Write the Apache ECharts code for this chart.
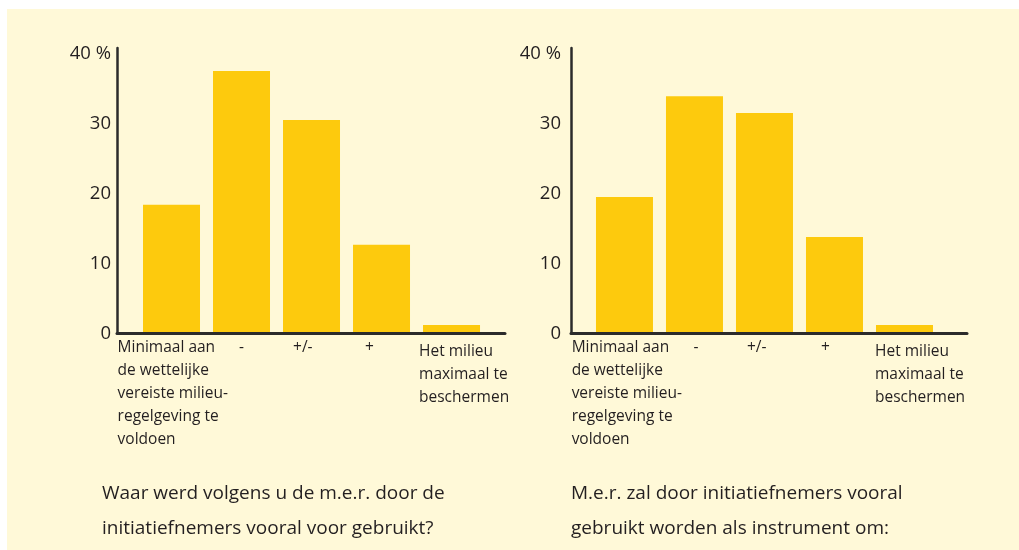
<!DOCTYPE html>
<html>
<head>
<meta charset="utf-8">
<script src="https://cdn.jsdelivr.net/npm/echarts@6/dist/echarts.min.js"></script>
<style>
  html, body { margin: 0; padding: 0; background: #ffffff; }
  #bg { position: absolute; left: 7px; top: 9px; width: 1012px; height: 541px; background: #FFF9D8; }
  #chart { position: absolute; left: 0; top: 0; width: 1019px; height: 550px; }
</style>
</head>
<body>
<div id="bg"></div>
<div id="chart"></div>
<script>
// ---- data ----
const categories = [
  'Minimaal aan\nde wettelijke\nvereiste milieu-\nregelgeving te\nvoldoen',
  '-',
  '+/-',
  '+',
  'Het milieu\nmaximaal te\nbeschermen'
];
const leftValues = [18.4, 37.5, 30.5, 12.7, 1.2];
const rightValues = [19.5, 33.9, 31.5, 13.8, 1.2];
const yTickValues = [0, 10, 20, 30, 40];
const yTickLabels = ['0', '10', '20', '30', '40 %'];
const leftTitle = 'Waar werd volgens u de m.e.r. door de\ninitiatiefnemers vooral voor gebruikt?';
const rightTitle = 'M.e.r. zal door initiatiefnemers vooral\ngebruikt worden als instrument om:';

// ---- styling / layout ----
const FONT = 'Open Sans';
const TXT = '#231f20';
const BAR = '#FDCA0D';
const AXIS = '#2b2b2b';

// label anchor positions (axis units) for each chart
const leftLabelPos = [-0.77, 0.964, 1.736, 2.764, 3.536];
const rightLabelPos = [-0.755, 0.986, 1.75, 2.807, 3.579];

function xAxisCfg(gridIndex, min, max, labelPos) {
  return {
    type: 'value', gridIndex, min, max,
    axisLine: { show: true, onZero: false, lineStyle: { color: AXIS, width: 3 } },
    axisTick: { show: false },
    splitLine: { show: false },
    z: 5,
    axisLabel: {
      customValues: labelPos,
      align: 'left',
      verticalAlign: 'top',
      margin: 3,
      fontFamily: FONT, fontSize: 15.5, lineHeight: 23, color: TXT,
      rich: { s: { lineHeight: 4, fontSize: 4 } },
      formatter: function (v) {
        let best = 0, d = Infinity;
        labelPos.forEach((p, i) => { if (Math.abs(p - v) < d) { d = Math.abs(p - v); best = i; } });
        const t = categories[best];
        return best === categories.length - 1 ? '{s| }\n' + t : t;
      }
    }
  };
}
function yAxisCfg(gridIndex, margin) {
  return {
    type: 'value', gridIndex, min: 0, max: 40.8, interval: 10,
    axisLine: { show: true, onZero: false, lineStyle: { color: AXIS, width: 2.5 } },
    axisTick: { show: false },
    splitLine: { show: false },
    z: 5,
    axisLabel: {
      customValues: yTickValues,
      margin: margin,
      fontFamily: FONT, fontSize: 18.5, color: TXT,
      formatter: function (v) { return yTickLabels[yTickValues.indexOf(v)]; }
    }
  };
}
function barSeries(idx, values) {
  return {
    type: 'bar', xAxisIndex: idx, yAxisIndex: idx,
    barWidth: 57,
    itemStyle: { color: BAR },
    data: values.map((v, i) => [i, v]),
    z: 2
  };
}

const chart = echarts.init(document.getElementById('chart'), null, { renderer: 'canvas' });
chart.setOption({
  backgroundColor: 'transparent',
  animation: false,
  title: [
    { text: leftTitle, left: 97, top: 471,
      textStyle: { fontFamily: FONT, fontSize: 19, fontWeight: 'normal', color: TXT, lineHeight: 35 } },
    { text: rightTitle, left: 566, top: 471,
      textStyle: { fontFamily: FONT, fontSize: 19, fontWeight: 'normal', color: TXT, lineHeight: 35 } }
  ],
  grid: [
    { left: 117, right: 514, top: 48, bottom: 216.5 },
    { left: 571, right: 52, top: 48, bottom: 216.5 }
  ],
  xAxis: [
    xAxisCfg(0, -0.7786, 4.764, leftLabelPos),
    xAxisCfg(1, -0.764, 4.893, rightLabelPos)
  ],
  yAxis: [yAxisCfg(0, 6), yAxisCfg(1, 10)],
  series: [barSeries(0, leftValues), barSeries(1, rightValues)]
});
</script>
</body>
</html>
